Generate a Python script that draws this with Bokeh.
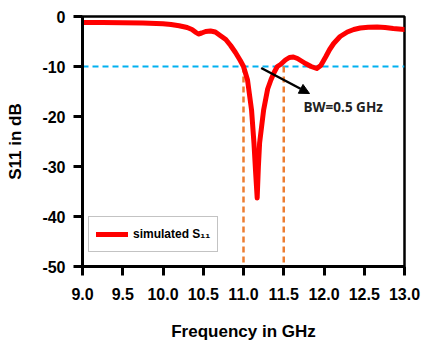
from bokeh.plotting import figure
from bokeh.models import Range1d, FixedTicker, Arrow, NormalHead, Label, Legend, LegendItem
from bokeh.embed import file_html
from bokeh.resources import INLINE

freq = [9.0, 9.25, 9.5, 9.75, 10.0, 10.1, 10.2, 10.3, 10.36, 10.41, 10.44, 10.48, 10.53,
        10.59, 10.65, 10.71, 10.78, 10.84, 10.9, 10.96, 11.0, 11.05, 11.1, 11.13, 11.15,
        11.17, 11.185, 11.2, 11.25, 11.3, 11.34, 11.38, 11.42, 11.46, 11.52, 11.57, 11.62,
        11.67, 11.72, 11.77, 11.84, 11.91, 11.96, 12.02, 12.07, 12.12, 12.2, 12.29, 12.37,
        12.45, 12.55, 12.66, 12.76, 12.86, 13.0]
s11 = [-1.2, -1.2, -1.25, -1.3, -1.45, -1.6, -1.85, -2.2, -2.6, -3.2, -3.5, -3.3, -3.0,
       -2.9, -3.1, -3.8, -4.6, -5.8, -7.2, -8.8, -10.0, -12.7, -18.7, -25.3, -31.0,
       -36.3, -30.0, -25.3, -18.7, -14.5, -12.7, -11.2, -10.0, -9.6, -8.7, -8.2, -8.1,
       -8.4, -8.9, -9.4, -10.0, -10.4, -9.8, -8.1, -6.6, -5.4, -4.0, -3.1, -2.6,
       -2.3, -2.15, -2.1, -2.2, -2.4, -2.6]

x_ticks = [9.0, 9.5, 10.0, 10.5, 11.0, 11.5, 12.0, 12.5, 13.0]
x_tick_labels = ["9.0", "9.5", "10.0", "10.5", "11.0", "11.5", "12.0", "12.5", "13.0"]
y_ticks = [0, -10, -20, -30, -40, -50]
y_tick_labels = ["0", "-10", "-20", "-30", "-40", "-50"]

threshold = -10
bw_edges = [11.0, 11.5]
arrow_start = (11.22, -10.3)
arrow_end = (11.82, -15.4)
bw_text = "BW=0.5 GHz"
bw_text_pos = (11.745, -18.1)

p = figure(width=422, height=343, output_backend="svg", toolbar_location=None,
           x_range=Range1d(9, 13), y_range=Range1d(-50, 0),
           min_border_left=82, min_border_right=18, min_border_top=16, min_border_bottom=76)
p.background_fill_color = "white"
p.border_fill_color = "white"
p.grid.visible = False
p.outline_line_color = "black"
p.outline_line_width = 2.5

# threshold line
p.line([9, 13], [threshold, threshold], line_color="#00B0F0", line_width=2, line_dash="6 4")
# bandwidth edges
for xe in bw_edges:
    p.line([xe, xe], [threshold, -50], line_color="#ED7D31", line_width=2.5, line_dash="6 4")

r = p.line(freq, s11, line_color="#FF0000", line_width=5, line_join="round", line_cap="round")

p.add_layout(Arrow(end=NormalHead(size=10, fill_color="black", line_color="black"),
                   x_start=arrow_start[0], y_start=arrow_start[1],
                   x_end=arrow_end[0], y_end=arrow_end[1],
                   line_color="black", line_width=2.5))
p.add_layout(Label(x=bw_text_pos[0], y=bw_text_pos[1], text=bw_text,
                   text_font="Open Sans", text_font_size="13.5px", text_font_style="bold",
                   text_color="#222222", text_baseline="middle", text_align="left"))

legend = Legend(items=[LegendItem(label="simulated S\u2081\u2081", renderers=[r])],
                location=(6, 14), glyph_width=32, glyph_height=20, padding=7,
                label_standoff=5, margin=0, border_line_color="#888888",
                border_line_width=1, label_text_font="Liberation Sans",
                label_text_font_size="12px", label_text_font_style="bold",
                label_text_color="black", background_fill_alpha=1)
p.add_layout(legend, "center")

for ax in (p.xaxis[0], p.yaxis[0]):
    ax.axis_line_width = 3
    ax.axis_line_color = "black"
    ax.major_tick_line_width = 3
    ax.major_tick_line_color = "black"
    ax.major_tick_out = 9
    ax.major_tick_in = 0
    ax.minor_tick_line_color = None
    ax.major_label_text_font = "Liberation Sans"
    ax.major_label_text_font_style = "bold"
    ax.major_label_text_font_size = "16px"
    ax.major_label_text_color = "black"
    ax.axis_label_text_font = "Liberation Sans"
    ax.axis_label_text_font_style = "bold"
    ax.axis_label_text_font_size = "17px"
    ax.axis_label_text_color = "black"

p.xaxis.ticker = FixedTicker(ticks=x_ticks)
p.xaxis.major_label_overrides = dict(zip(x_ticks, x_tick_labels))
p.yaxis.ticker = FixedTicker(ticks=y_ticks)
p.yaxis.major_label_overrides = dict(zip(y_ticks, y_tick_labels))
p.xaxis.axis_label = "Frequency in GHz"
p.yaxis.axis_label = "S11 in dB"
p.xaxis.major_label_standoff = 12
p.yaxis.major_label_standoff = 8
p.xaxis.axis_label_standoff = 19
p.yaxis.axis_label_standoff = 14

open("out.html", "w").write(file_html(p, INLINE))
